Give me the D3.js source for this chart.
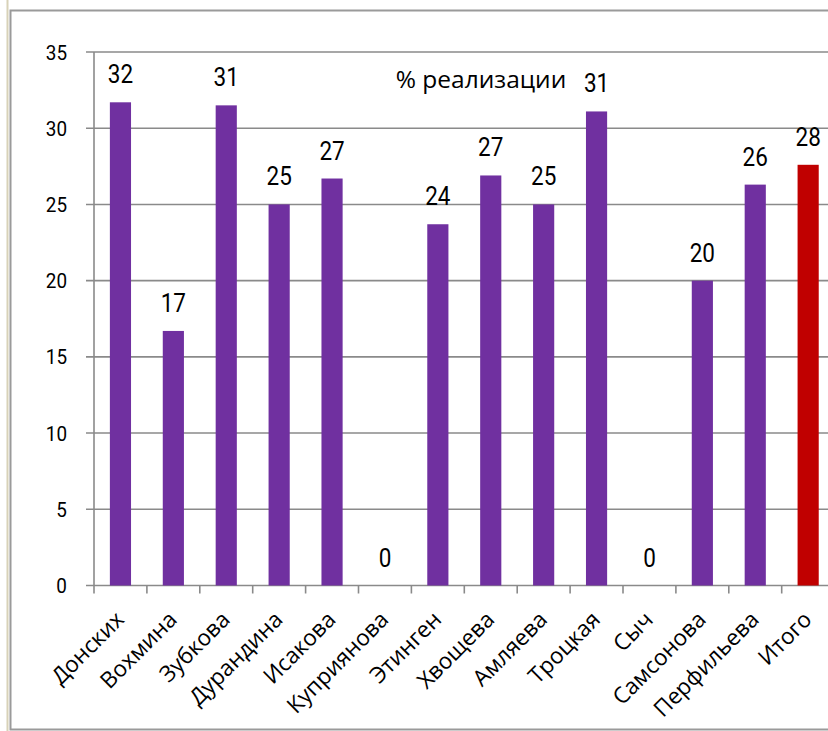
<!DOCTYPE html>
<html>
<head>
<meta charset="utf-8">
<script src="https://cdn.jsdelivr.net/npm/d3@7"></script>
<style>
  html, body { margin: 0; padding: 0; background: #fff; }
  svg { display: block; }
</style>
</head>
<body>
<svg id="chart" width="828" height="731"></svg>
<script>
const categories = ["Донских", "Вохмина", "Зубкова", "Дурандина", "Исакова", "Куприянова", "Этинген", "Хвощева", "Амляева", "Троцкая", "Сыч", "Самсонова", "Перфильева", "Итого"];
const values = [31.7, 16.7, 31.5, 25.0, 26.7, 0, 23.7, 26.9, 25.0, 31.1, 0, 20.0, 26.3, 27.6];
const labels = ["32", "17", "31", "25", "27", "0", "24", "27", "25", "31", "0", "20", "26", "28"];
const yTicks = [0, 5, 10, 15, 20, 25, 30, 35];
const title = "% реализации";

const svg = d3.select("#chart");
const W = 828, H = 731;
const numFont = "Roboto, 'Liberation Sans', sans-serif";

// outer frame
svg.append("line").attr("x1", 7.5).attr("x2", 7.5).attr("y1", 0).attr("y2", H)
  .attr("stroke", "#d8d2b8").attr("stroke-width", 2);
svg.append("path")
  .attr("d", `M${W + 5},10.5 H10.5 V729.5 H${W + 5}`)
  .attr("fill", "none").attr("stroke", "#9a9a9a").attr("stroke-width", 2);

const x = d3.scaleBand().domain(categories).range([94, 834.6]).paddingInner(0.6).paddingOuter(0.3);
const y = d3.scaleLinear().domain([0, 35]).range([585.5, 52]);
const step = x.step();
const gridColor = "#8a8a8a";

// gridlines + y tick marks
svg.append("g").selectAll("line").data(yTicks).join("line")
  .attr("x1", 86).attr("x2", W + 5)
  .attr("y1", d => y(d)).attr("y2", d => y(d))
  .attr("stroke", gridColor).attr("stroke-width", 1.6);

// y axis labels
svg.append("g").selectAll("text").data(yTicks).join("text")
  .attr("transform", d => `translate(67,${y(d)}) scale(0.9,1)`)
  .attr("dy", "0.36em")
  .attr("text-anchor", "end")
  .attr("font-family", numFont)
  .attr("font-size", 21).attr("fill", "#000")
  .text(d => d);

// y axis line
svg.append("line").attr("x1", 94).attr("x2", 94).attr("y1", y(35)).attr("y2", y(0))
  .attr("stroke", gridColor).attr("stroke-width", 1.6);

// x tick marks at band boundaries
const bounds = d3.range(categories.length + 1).map(i => 94 + i * step);
svg.append("g").selectAll("line").data(bounds).join("line")
  .attr("x1", d => d).attr("x2", d => d)
  .attr("y1", y(0)).attr("y2", y(0) + 8)
  .attr("stroke", gridColor).attr("stroke-width", 1.6);

// bars
svg.append("g").selectAll("rect").data(categories).join("rect")
  .attr("x", d => x(d)).attr("width", x.bandwidth())
  .attr("y", (d, i) => y(values[i]))
  .attr("height", (d, i) => y(0) - y(values[i]))
  .attr("fill", (d, i) => i === categories.length - 1 ? "#C00000" : "#7030A0");

// data labels
svg.append("g").selectAll("text").data(categories).join("text")
  .attr("transform", (d, i) => `translate(${x(d) + x.bandwidth() / 2},${y(values[i]) - 19}) scale(0.9,1)`)
  .attr("text-anchor", "middle")
  .attr("font-family", numFont)
  .attr("font-size", 25).attr("fill", "#000")
  .text((d, i) => labels[i]);

// category labels
svg.append("g").selectAll("text").data(categories).join("text")
  .attr("transform", d => `translate(${x(d) + x.bandwidth() / 2 + 5},621) rotate(-45)`)
  .attr("text-anchor", "end")
  .attr("font-family", "'Open Sans', sans-serif")
  .attr("font-size", 22.5).attr("fill", "#000")
  .text(d => d);

// title
svg.append("text").attr("x", 481).attr("y", 88)
  .attr("text-anchor", "middle")
  .attr("font-family", "'Open Sans', sans-serif")
  .attr("font-size", 24.5).attr("fill", "#000")
  .text(title);
</script>
</body>
</html>
